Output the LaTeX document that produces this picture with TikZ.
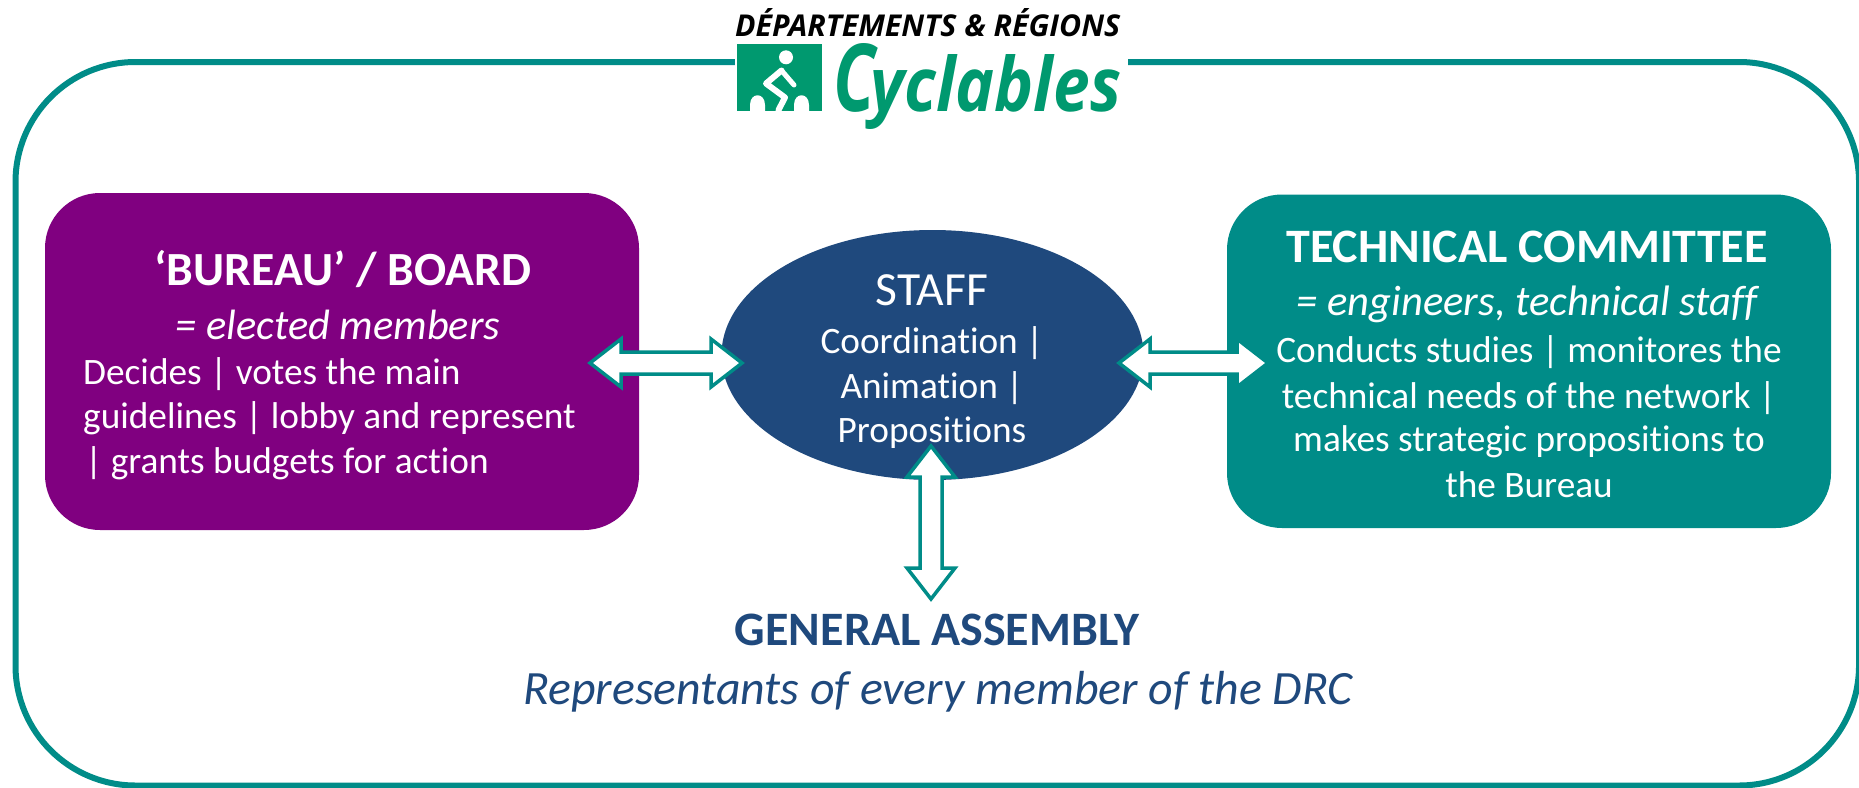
\documentclass[tikz,border=0pt]{standalone}
\usepackage{fontspec}
\setmainfont{Carlito}[Ligatures=NoCommon]
\newfontfamily\logofont{Open Sans}
\usetikzlibrary{calc}
\definecolor{tealc}{HTML}{008C88}
\definecolor{purplec}{HTML}{800080}
\definecolor{navyc}{HTML}{1F497D}
\definecolor{logogreen}{HTML}{00996F}
\newcommand{\fsz}[1]{\fontsize{#1}{#1}\selectfont}
\newcommand{\blockarrow}[2]{%
  \draw[blockarrow] (#1)
    -- ($(#1)!31pt!(#2)!24pt!90:(#2)$)
    -- ($(#1)!31pt!(#2)!11pt!90:(#2)$)
    -- ($(#2)!31pt!(#1)!11pt!-90:(#1)$)
    -- ($(#2)!31pt!(#1)!24pt!-90:(#1)$)
    -- (#2)
    -- ($(#2)!31pt!(#1)!24pt!90:(#1)$)
    -- ($(#2)!31pt!(#1)!11pt!90:(#1)$)
    -- ($(#1)!31pt!(#2)!11pt!-90:(#2)$)
    -- ($(#1)!31pt!(#2)!24pt!-90:(#2)$)
    -- cycle;}
\tikzset{
  x=1pt,y=-1pt,
  blockarrow/.style={draw=tealc,fill=white,line width=3.5pt,miter limit=4},
  txt/.style={text=white,inner sep=0pt,anchor=base},
}
\begin{document}
\begin{tikzpicture}
\useasboundingbox (0,0) rectangle (1859,787);
\fill[white] (0,0) rectangle (1859,787);
% frame
\draw[tealc,line width=6pt,rounded corners=120pt] (15.5,62) rectangle (1859,785.5);
\fill[white] (735,40) rectangle (1128,90);
% logo
\node[inner sep=0pt,anchor=base west] (logotop) at (735,36) {\resizebox{385pt}{28pt}{\logofont\bfseries\itshape\fsz{30}DÉPARTEMENTS \& RÉGIONS}};
\fill[logogreen] (737,44) rectangle (822,111);
\fill[white] (786,57.3) circle (7);
\draw[white,line width=6pt,line join=round,line cap=round] (781.5,70.5) -- (766,83.5) -- (785,97.5) -- (778.5,110);
\draw[white,line width=5pt,line cap=round] (781.5,70.5) -- (794,85);
\fill[white] (750,111) -- (750,105) .. controls (750,92) and (765,92) .. (765,105) -- (765,111) -- cycle;
\fill[white] (794,111) -- (794,105) .. controls (794,92) and (809,92) .. (809,105) -- (809,111) -- cycle;
\node[inner sep=0pt,anchor=base west,text=logogreen] (logoc) at (833,111) {\resizebox{42pt}{68pt}{\logofont\bfseries\itshape\fsz{60}C}};
\node[inner sep=0pt,anchor=base west,text=logogreen] (logomain) at (870,111) {\resizebox{251pt}{57pt}{\logofont\bfseries\itshape\fsz{60}yclables}};
% boxes
\fill[purplec,rounded corners=55pt] (45,193) rectangle (639,530);
\fill[tealc,rounded corners=55pt] (1227,194.5) rectangle (1831,528);
\fill[navyc] (932.5,355) ellipse (211 and 125);
% arrows
\coordinate (al) at (590,363); \coordinate (ar) at (742,363);
\coordinate (bl) at (1119,363); \coordinate (br) at (1268,363);
\coordinate (cl) at (931,446); \coordinate (cr) at (931,599);
\blockarrow{al}{ar}
\blockarrow{bl}{br}
\blockarrow{cl}{cr}
% board text
\node[txt,font=\bfseries\fsz{47.6}] (b1) at (343,285) {‘BUREAU’ / BOARD};
\node[txt,font=\itshape\fsz{42.4}] (b2) at (338,339) {= elected members};
\node[txt,font=\fsz{37.3},anchor=base west] (b3) at (83,384) {Decides | votes the main};
\node[txt,font=\fsz{37.3},anchor=base west] (b4) at (83,428) {guidelines | lobby and represent};
\node[txt,font=\fsz{37.3},anchor=base west] (b5) at (85,473) {| grants budgets for action};
% staff text
\node[txt,font=\fsz{47.6}] (s1) at (932,305) {STAFF};
\node[txt,font=\fsz{37.3}] (s2) at (932,353) {Coordination |};
\node[txt,font=\fsz{37.3}] (s3) at (932,398) {Animation |};
\node[txt,font=\fsz{37.3}] (s4) at (932,442) {Propositions};
% technical text
\node[txt,font=\bfseries\fsz{48}] (t1) at (1527,262) {TECHNICAL COMMITTEE};
\node[txt,font=\itshape\fsz{42.6}] (t2) at (1527,315) {= engineers, technical staff};
\node[txt,font=\fsz{37.3}] (t3) at (1529,362) {Conducts studies | monitores the};
\node[txt,font=\fsz{37.3}] (t4) at (1529,408) {technical needs of the network |};
\node[txt,font=\fsz{37.3}] (t5) at (1529,451) {makes strategic propositions to};
\node[txt,font=\fsz{37.3}] (t6) at (1529,497) {the Bureau};
% assembly
\node[txt,text=navyc,font=\bfseries\fsz{48}] (g1) at (937,645) {GENERAL ASSEMBLY};
\node[txt,text=navyc,font=\itshape\fsz{47.8}] (g2) at (938,704) {Representants of every member of the DRC};
\end{tikzpicture}
\end{document}
